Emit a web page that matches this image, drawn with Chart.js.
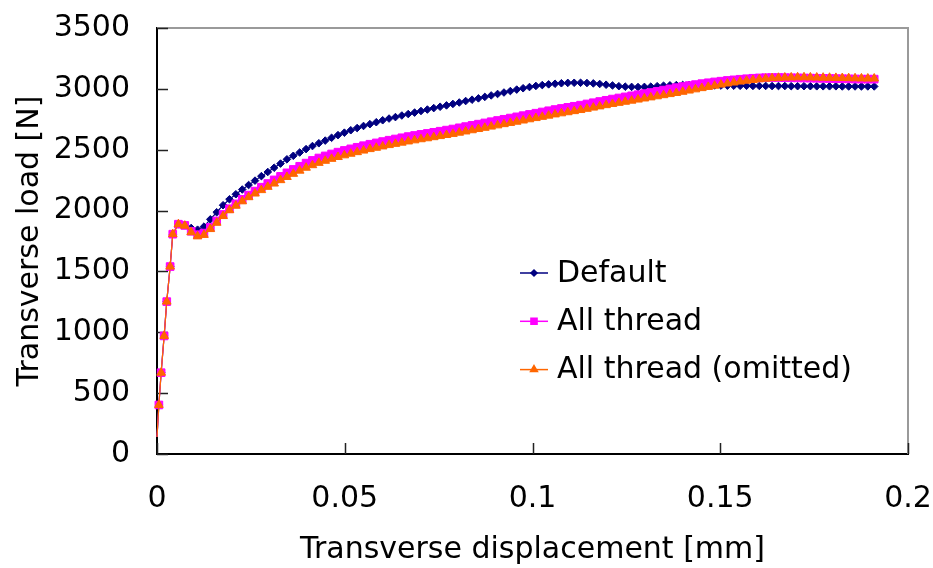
<!DOCTYPE html>
<html>
<head>
<meta charset="utf-8">
<script src="https://cdn.jsdelivr.net/npm/chart.js@4.4.1/dist/chart.umd.min.js"></script>
<style>
  html, body { margin: 0; padding: 0; background: #fff; }
  #wrap { width: 933px; height: 568px; }
</style>
</head>
<body>
<div id="wrap"><canvas id="load" width="933" height="568"></canvas></div>
<script>
// displacement steps [mm], shared by all three runs
const disp = [
  0, 0.0005, 0.0011, 0.0019, 0.0026, 0.0035, 0.0042,
  0.0057, 0.0074, 0.0091, 0.0108, 0.0125, 0.0142, 0.0159, 0.0176, 0.0193, 0.0210,
  0.0227, 0.0244, 0.0261, 0.0278, 0.0295, 0.0312, 0.0329, 0.0346, 0.0363, 0.0380,
  0.0397, 0.0414, 0.0431, 0.0448, 0.0465, 0.0482, 0.0499, 0.0516, 0.0533, 0.0550,
  0.0567, 0.0584, 0.0601, 0.0618, 0.0635, 0.0652, 0.0669, 0.0686, 0.0703, 0.0720,
  0.0737, 0.0754, 0.0771, 0.0788, 0.0805, 0.0822, 0.0839, 0.0856, 0.0873, 0.0890,
  0.0907, 0.0924, 0.0941, 0.0958, 0.0975, 0.0992, 0.1009, 0.1026, 0.1043, 0.1060,
  0.1077, 0.1094, 0.1111, 0.1128, 0.1145, 0.1162, 0.1179, 0.1196, 0.1213, 0.1230,
  0.1247, 0.1264, 0.1281, 0.1298, 0.1315, 0.1332, 0.1349, 0.1366, 0.1383, 0.1400,
  0.1417, 0.1434, 0.1451, 0.1468, 0.1485, 0.1502, 0.1519, 0.1536, 0.1553, 0.1570,
  0.1587, 0.1604, 0.1621, 0.1638, 0.1655, 0.1672, 0.1689, 0.1706, 0.1723, 0.1740,
  0.1757, 0.1774, 0.1791, 0.1808, 0.1825, 0.1842, 0.1859, 0.1876, 0.1893, 0.1910
];

// transverse load [N]
const loadDefault = [
  140, 403, 668, 970, 1252, 1540, 1806,
  1890, 1880, 1857, 1843, 1868, 1928, 1986, 2044, 2093, 2134,
  2173, 2210, 2246, 2283, 2317, 2352, 2386, 2421, 2450, 2477,
  2505, 2530, 2553, 2575, 2598, 2620, 2640, 2660, 2678, 2695,
  2710, 2726, 2742, 2756, 2768, 2781, 2793, 2805, 2818, 2830,
  2842, 2853, 2864, 2876, 2888, 2900, 2911, 2922, 2934, 2946,
  2958, 2970, 2982, 2994, 3005, 3015, 3024, 3031, 3037, 3042,
  3046, 3049, 3050, 3050, 3048, 3045, 3040, 3034, 3028, 3022,
  3018, 3016, 3015, 3016, 3018, 3022, 3026, 3029, 3031, 3032,
  3032, 3031, 3030, 3029, 3028, 3027, 3026, 3026, 3025, 3025,
  3024, 3024, 3024, 3023, 3023, 3023, 3022, 3022, 3022, 3022,
  3021, 3021, 3021, 3021, 3020, 3020, 3020, 3020, 3020, 3020
];

const loadAllThread = [
  140, 403, 668, 970, 1252, 1540, 1806,
  1888, 1878, 1830, 1802, 1815, 1862, 1915, 1968, 2015, 2055,
  2092, 2127, 2160, 2192, 2222, 2252, 2281, 2310, 2338, 2364,
  2390, 2412, 2432, 2449, 2465, 2480, 2494, 2507, 2520, 2533,
  2545, 2556, 2567, 2578, 2588, 2598, 2608, 2617, 2626, 2634,
  2643, 2652, 2661, 2670, 2680, 2690, 2700, 2710, 2720, 2730,
  2740, 2750, 2760, 2770, 2780, 2790, 2800, 2810, 2820, 2830,
  2839, 2848, 2857, 2866, 2876, 2886, 2896, 2906, 2916, 2925,
  2934, 2943, 2952, 2961, 2970, 2980, 2990, 3000, 3010, 3019,
  3027, 3035, 3043, 3050, 3057, 3063, 3069, 3074, 3079, 3083,
  3087, 3090, 3092, 3093, 3093, 3092, 3091, 3090, 3089, 3088,
  3087, 3086, 3085, 3084, 3083, 3082, 3081, 3080, 3080, 3080
];

const loadOmitted = [
  140, 403, 668, 970, 1252, 1540, 1806,
  1888, 1876, 1822, 1788, 1800, 1848, 1900, 1955, 2003, 2040,
  2076, 2110, 2140, 2168, 2195, 2222, 2250, 2276, 2302, 2328,
  2352, 2373, 2392, 2409, 2425, 2440, 2454, 2467, 2480, 2493,
  2505, 2516, 2527, 2538, 2548, 2558, 2568, 2577, 2586, 2594,
  2603, 2612, 2621, 2630, 2640, 2650, 2660, 2670, 2680, 2690,
  2700, 2710, 2720, 2730, 2740, 2750, 2760, 2770, 2780, 2790,
  2799, 2808, 2817, 2826, 2836, 2846, 2856, 2866, 2876, 2885,
  2894, 2903, 2912, 2921, 2930, 2939, 2948, 2957, 2966, 2976,
  2986, 2996, 3006, 3016, 3026, 3035, 3044, 3052, 3060, 3067,
  3073, 3079, 3084, 3088, 3091, 3093, 3094, 3095, 3095, 3094,
  3093, 3092, 3091, 3090, 3089, 3088, 3087, 3086, 3085, 3085
];

const seriesNames = ['Default', 'All thread', 'All thread (omitted)'];
const xTicks = [0, 0.05, 0.1, 0.15, 0.2];
const yTicks = [0, 500, 1000, 1500, 2000, 2500, 3000, 3500];

const FONT = '"DejaVu Sans", sans-serif';

function pts(arr) {
  return disp.map((x, i) => ({ x: x, y: arr[i] }));
}

// first sample sits on the axis without a marker
function rad(r) {
  return ctx => ctx.dataIndex === 0 ? 0 : r;
}

const styles = [
  { color: '#000080', style: 'rectRot', r: 3.8, order: 3 },
  { color: '#ff00ff', style: 'rect', r: 5.4, order: 2 },
  { color: '#ff6600', style: 'triangle', r: 5.0, order: 1 }
];
const loads = [loadDefault, loadAllThread, loadOmitted];

const datasets = loads.map((arr, i) => ({
  label: seriesNames[i],
  data: pts(arr),
  borderColor: styles[i].color,
  backgroundColor: styles[i].color,
  pointBackgroundColor: styles[i].color,
  pointBorderColor: styles[i].color,
  pointBorderWidth: 1,
  borderWidth: 1.2,
  pointStyle: styles[i].style,
  pointRadius: rad(styles[i].r),
  pointHoverRadius: rad(styles[i].r),
  order: styles[i].order,
  clip: false,
  tension: 0
}));

// gray top/right frame plus inward tick marks
const frame = {
  id: 'frame',
  beforeDatasetsDraw(chart) {
    const { ctx, chartArea: a, scales: { x, y } } = chart;
    ctx.save();
    ctx.strokeStyle = '#9a9a9a';
    ctx.lineWidth = 2;
    ctx.beginPath();
    ctx.moveTo(a.left, a.top);
    ctx.lineTo(a.right, a.top);
    ctx.lineTo(a.right, a.bottom);
    ctx.stroke();
    ctx.strokeStyle = '#222';
    ctx.lineWidth = 1.5;
    ctx.beginPath();
    xTicks.forEach(v => {
      const px = Math.round(x.getPixelForValue(v)) + 0.5;
      ctx.moveTo(px, a.bottom);
      ctx.lineTo(px, a.bottom - 11);
    });
    yTicks.forEach(v => {
      const py = Math.round(y.getPixelForValue(v)) + 0.5;
      ctx.moveTo(a.left, py);
      ctx.lineTo(a.left + 11, py);
    });
    ctx.stroke();
    ctx.restore();
  }
};

// legend drawn inside the plot, line through marker
const legendBox = {
  id: 'legendBox',
  afterDraw(chart) {
    const { ctx, chartArea: a } = chart;
    ctx.save();
    ctx.font = '30px ' + FONT;
    ctx.textBaseline = 'middle';
    chart.data.datasets.forEach((ds, i) => {
      const x0 = a.left + 363;
      const y0 = a.top + 245 + i * 48.3;
      ctx.strokeStyle = ds.borderColor;
      ctx.fillStyle = ds.borderColor;
      ctx.lineWidth = 1.5;
      ctx.beginPath();
      ctx.moveTo(x0, y0);
      ctx.lineTo(x0 + 28, y0);
      ctx.stroke();
      Chart.helpers.drawPoint(ctx, {
        pointStyle: ds.pointStyle,
        radius: styles[i].r * 0.8,
        rotation: 0,
        borderWidth: 1
      }, x0 + 14, y0);
      ctx.fillStyle = '#000';
      ctx.fillText(ds.label, x0 + 37, y0 + 1);
    });
    ctx.restore();
  }
};

new Chart(document.getElementById('load'), {
  type: 'line',
  data: { datasets: datasets },
  plugins: [frame, legendBox],
  options: {
    responsive: false,
    animation: false,
    events: [],
    layout: { padding: { top: 28, right: 25, left: 0, bottom: 0 } },
    plugins: { legend: { display: false }, tooltip: { enabled: false } },
    scales: {
      x: {
        type: 'linear',
        min: 0,
        max: 0.2,
        afterBuildTicks: s => { s.ticks = xTicks.map(v => ({ value: v })); },
        afterFit: s => { s.height = 114; s.paddingLeft = 0; s.paddingRight = 0; },
        grid: { display: true, drawOnChartArea: false, drawTicks: false },
        border: { display: true, color: '#000', width: 2 },
        ticks: {
          padding: 27,
          color: '#000',
          font: { family: FONT, size: 30 },
          maxRotation: 0,
          callback: v => String(v)
        },
        title: {
          display: true,
          text: 'Transverse displacement [mm]',
          color: '#000',
          font: { family: FONT, size: 30 },
          padding: { top: 0, bottom: 0 }
        }
      },
      y: {
        type: 'linear',
        min: 0,
        max: 3500,
        afterBuildTicks: s => { s.ticks = yTicks.map(v => ({ value: v })); },
        afterFit: s => { s.width = 157; s.paddingTop = 0; s.paddingBottom = 0; },
        grid: { display: true, drawOnChartArea: false, drawTicks: false },
        border: { display: true, color: '#000', width: 2 },
        ticks: {
          padding: 27,
          color: '#000',
          font: { family: FONT, size: 30 },
          callback: v => String(v)
        },
        title: {
          display: true,
          text: 'Transverse load [N]',
          color: '#000',
          font: { family: FONT, size: 30 },
          padding: { top: 12, bottom: 0 }
        }
      }
    }
  }
});
</script>
</body>
</html>
